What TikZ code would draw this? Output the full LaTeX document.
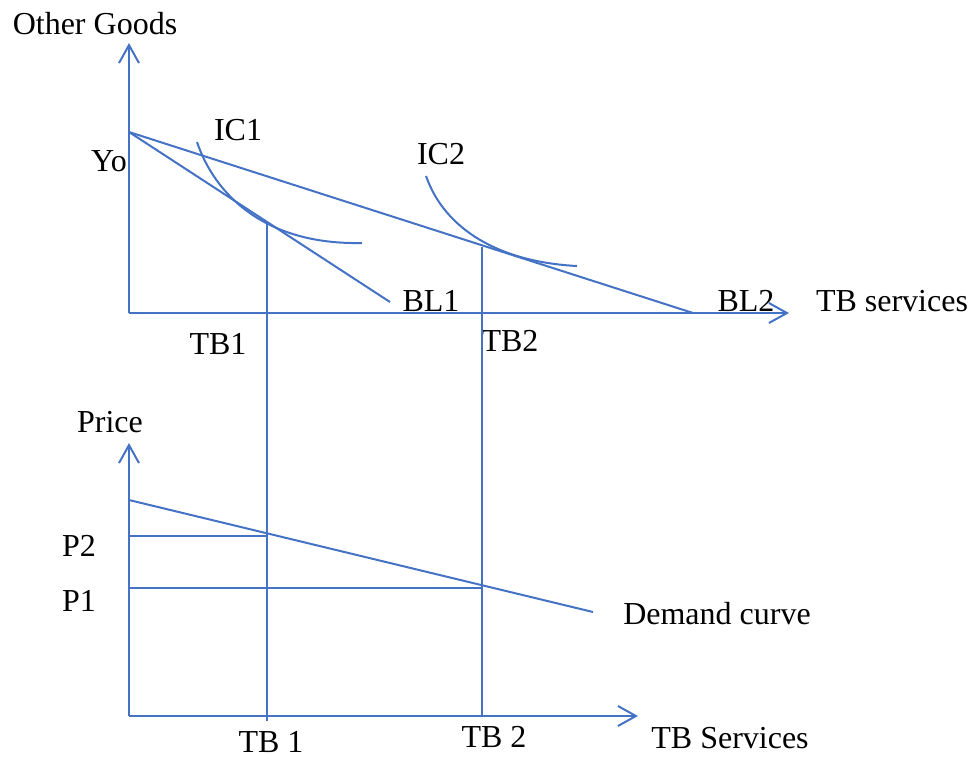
\documentclass[tikz,border=0pt]{standalone}
\usepackage{fontspec}
\setmainfont{Liberation Serif}
\usetikzlibrary{arrows.meta}
\definecolor{lineblue}{RGB}{68,114,196}

\begin{document}
\begin{tikzpicture}[x=0.75pt,y=-0.75pt,
	curve/.style={lineblue, line width=1.5pt},
	axis/.style={curve, -{Straight Barb[length=13.5pt,width=15pt]}},
	lbl/.style={font=\fontsize{24}{28}\selectfont, inner sep=0pt}]
	
	\useasboundingbox (0,0) rectangle (974,758);
	
	% ======================================================
	% Top panel: budget lines and indifference curves
	% ======================================================
	\coordinate (O1) at (129,313);
	\coordinate (Ytop) at (129,43);
	\coordinate (Xtop) at (789,313);
	\coordinate (Yo) at (129,132);
	\coordinate (BL1end) at (390,302);
	\coordinate (BL2end) at (693,313);
	\coordinate (E1) at (267,221);
	\coordinate (E2) at (482,247);
	
	% Axes
	\draw[axis] (O1) -- (Ytop);
	\draw[axis] (O1) -- (Xtop);
	\node[lbl] (goods) at (95,24) {Other Goods};
	\node[lbl] (tbs) at (892,301) {TB services};
	
	% Budget lines from Yo
	\draw[curve] (Yo) -- (BL1end);
	\draw[curve] (Yo) -- (BL2end);
	\node[lbl] (yo) at (109,161) {Yo};
	\node[lbl] (bl1) at (431,301) {BL1};
	\node[lbl] (bl2) at (746,301) {BL2};
	
	% Indifference curves
	\draw[curve] (197,142) .. controls (215,195) and (265,245) .. (362,243);
	\draw[curve] (426,176) .. controls (445,230) and (500,262) .. (577,266);
	\node[lbl] (ic1) at (238,130) {IC1};
	\node[lbl] (ic2) at (441,154) {IC2};
	
	\node[lbl] (tb1) at (218,344) {TB1};
	\node[lbl] (tb2) at (510,341) {TB2};
	
	% ======================================================
	% Bottom panel: demand curve
	% ======================================================
	\coordinate (O2) at (129,716);
	\coordinate (Ptop) at (129,443);
	\coordinate (Xbot) at (638,716);
	\coordinate (D0) at (129,500);
	\coordinate (Dend) at (593,612);
	\coordinate (D1) at (267,536);
	\coordinate (D2) at (482,588);
	
	% Axes
	\draw[axis] (O2) -- (Ptop);
	\draw[axis] (O2) -- (Xbot);
	\node[lbl] (price) at (110,422) {Price};
	\node[lbl] (tbsb) at (730,738) {TB Services};
	
	% Demand curve and price levels
	\draw[curve] (D0) -- (Dend);
	\draw[curve] (D1) -- (O2 |- D1);
	\draw[curve] (D2) -- (O2 |- D2);
	\node[lbl] (p2) at (79,546) {P2};
	\node[lbl] (p1) at (79,601) {P1};
	\node[lbl] (dem) at (717,614) {Demand curve};
	
	% Vertical links between the panels
	\draw[curve] (E1) -- (267,721);
	\draw[curve] (E2) -- (E2 |- O2);
	\node[lbl] (tb1b) at (271,742) {TB 1};
	\node[lbl] (tb2b) at (494,737) {TB 2};
	
\end{tikzpicture}
\end{document}
